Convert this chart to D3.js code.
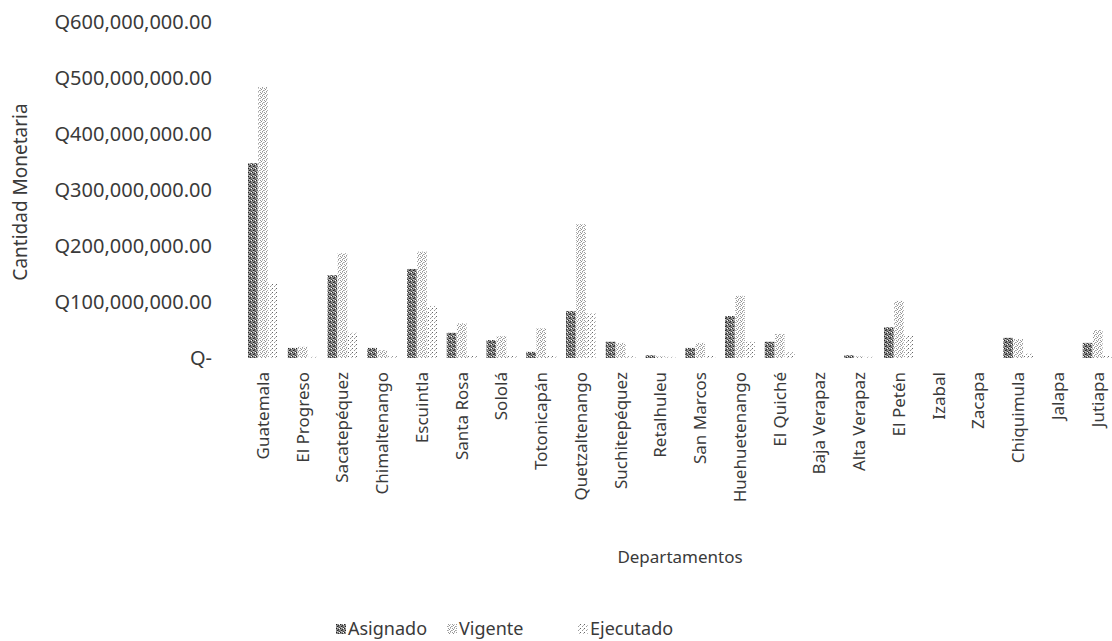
<!DOCTYPE html>
<html><head><meta charset="utf-8">
<script src="https://cdn.jsdelivr.net/npm/d3@7"></script>
<style>body{margin:0;background:#fff}svg text{font-family:"Noto Sans",sans-serif;fill:#3a3a3a}</style>
</head><body><svg id="c" width="1112" height="641"></svg>
<script>
const categories = ["Guatemala","El Progreso","Sacatepéquez","Chimaltenango","Escuintla","Santa Rosa","Sololá","Totonicapán","Quetzaltenango","Suchitepéquez","Retalhuleu","San Marcos","Huehuetenango","El Quiché","Baja Verapaz","Alta Verapaz","El Petén","Izabal","Zacapa","Chiquimula","Jalapa","Jutiapa"];
const seriesNames = ["Asignado","Vigente","Ejecutado"];
const asignado = [348,18,148,18,159,45,32,11,84,29,5,18,75,29,0,5,55,0,0,36,0,27].map(v=>v*1e6);
const vigente  = [484,20,187,14,190,62,39,53,239,27,3,27,111,43,0,3,102,0,0,34,0,50].map(v=>v*1e6);
const ejecutado= [134,2,45,3,93,5,5,5,80,3,2,5,29,10,0,2,40,0,0,8,0,5].map(v=>v*1e6);
const yTicks = [0,1e8,2e8,3e8,4e8,5e8,6e8];

const svg = d3.select("#c");
const defs = svg.append("defs");
function pat(id, bg, dots){
  const p = defs.append("pattern").attr("id",id).attr("width",4).attr("height",4).attr("patternUnits","userSpaceOnUse");
  p.append("rect").attr("width",4).attr("height",4).attr("fill",bg);
  dots.forEach(([x,y,c])=>p.append("rect").attr("x",x).attr("y",y).attr("width",1).attr("height",1).attr("fill",c));
}
pat("pA","#8a8a8a",[[0,0,"#222"],[2,1,"#333"],[1,2,"#222"],[3,3,"#444"],[3,0,"#fff"],[1,3,"#ccc"],[2,2,"#555"]]);
pat("pV","#ffffff",[[0,0,"#999"],[2,0,"#c4c4c4"],[1,1,"#8c8c8c"],[3,2,"#a0a0a0"],[0,2,"#bbb"],[2,3,"#999"]]);
pat("pE","#ffffff",[[0,0,"#666"],[2,2,"#999"],[3,1,"#bbb"]]);
const fills = ["url(#pA)","url(#pV)","url(#pE)"];

const x = d3.scaleBand().domain(categories).range([243,1117.5]).padding(0);
const xs = d3.scaleBand().domain(seriesNames).range([4.5,35.5]).padding(0.05);
const y = d3.scaleLinear().domain([0,6e8]).range([358,22]);

const data = categories.map((c,i)=>({c, vals:[asignado[i],vigente[i],ejecutado[i]]}));
const g = svg.append("g");
data.forEach(d=>{
  d.vals.forEach((v,j)=>{
    if(v<=0) return;
    g.append("rect").attr("x",x(d.c)+xs(seriesNames[j])).attr("width",xs.bandwidth())
      .attr("y",y(v)).attr("height",y(0)-y(v)).attr("fill",fills[j]);
  });
});

// Y axis
const fmt = d3.format(",.2f");
const ya = svg.append("g").attr("transform","translate(212,0)")
  .call(d3.axisLeft(y).tickValues(yTicks).tickSize(0).tickPadding(0).tickFormat(d=>d===0?"Q-":"Q"+fmt(d)));
ya.select(".domain").remove();
ya.selectAll("text").style("font-size","20px").attr("fill","#3a3a3a");

// X axis
const xa = svg.append("g").attr("transform","translate(0,358)")
  .call(d3.axisBottom(x).tickSize(0).tickPadding(0));
xa.select(".domain").remove();
xa.selectAll("text").style("font-size","17px").attr("fill","#3a3a3a").attr("text-anchor","end")
  .attr("transform","rotate(-90)").attr("x",-14).attr("y",0).attr("dy","0.35em");

// Axis titles
svg.append("text").attr("transform","translate(20,192) rotate(-90)").attr("text-anchor","middle")
  .attr("dy","0.35em").style("font-size","19px").text("Cantidad Monetaria");
svg.append("text").attr("x",680).attr("y",557).attr("text-anchor","middle").attr("dy","0.35em")
  .style("font-size","17px").text("Departamentos");

// Legend
const legX = [336,447,578];
const lg = svg.append("g");
seriesNames.forEach((s,j)=>{
  lg.append("rect").attr("x",legX[j]).attr("y",624).attr("width",10).attr("height",10).attr("fill",fills[j]);
  lg.append("text").attr("x",legX[j]+12).attr("y",629).attr("dy","0.35em").style("font-size","18px").text(s);
});
</script></body></html>
